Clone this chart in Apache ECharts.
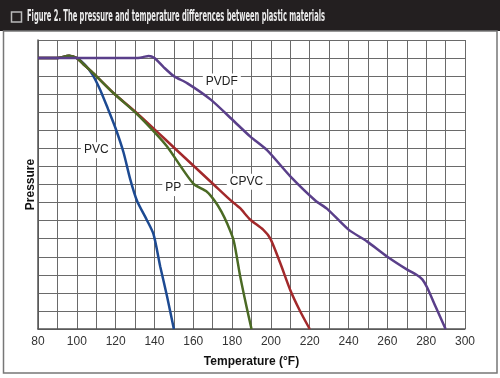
<!DOCTYPE html>
<html>
<head>
<meta charset="utf-8">
<script src="https://cdn.jsdelivr.net/npm/echarts@6/dist/echarts.min.js"></script>
<style>
html,body{margin:0;padding:0;background:#fff;}
#c{width:500px;height:378px;}
</style>
</head>
<body>
<div id="c"></div>
<script>
// ---- data ----
var titleText = 'Figure 2. The pressure and temperature differences between plastic materials';
var xName = 'Temperature (°F)';
var yName = 'Pressure';
var xTicks = [80, 100, 120, 140, 160, 180, 200, 220, 240, 260, 280, 300];

var pvc = [[80,15],[90,15],[96,15.13],[100,15],[104,14.65],[108,14.1],[112,13.25],[116,12.2],[120,11.1],[124,9.8],[127.5,8.3],[131,7.1],[136,6.05],[139.5,5.25],[143,3.45],[146.5,1.8],[150,0]];
var pp = [[80,15],[90,15],[96,15.13],[100,15],[104,14.6],[108.6,14.15],[119,13.05],[131,11.9],[140,10.9],[146.5,10.1],[160,8.05],[167,7.6],[171,7.1],[174.5,6.5],[177.4,5.85],[180.8,4.9],[184.2,2.9],[187.5,1.2],[190,0]];
var cpvc = [[80,15],[90,15],[96,15.13],[100,15],[104,14.6],[108.6,14.15],[119,13.05],[131,11.95],[150,10.05],[170.5,8.0],[179,7.15],[184,6.7],[189.4,6.05],[196,5.5],[199.7,5.0],[204.8,3.65],[210,2.15],[215,1.0],[220,0]];
var pvdf = [[80,15],[130,15],[134,15.05],[137,15.12],[140,15.0],[144.7,14.5],[150,14.0],[157,13.6],[169,12.7],[181,11.5],[189.4,10.65],[198,9.9],[210,8.45],[223,7.1],[229,6.65],[240,5.5],[249.5,4.85],[260,4.0],[270,3.3],[275,3.0],[278,2.75],[280.5,2.3],[285,1.2],[290,0]];

var seriesNames = ['PVC', 'CPVC', 'PP', 'PVDF'];
var labelPos = { PVC: [110, 9.9], CPVC: [187.4, 8.15], PP: [149.7, 7.8], PVDF: [174.7, 13.7] };

// ---- chart ----
var colors = { PVC: '#1d4a92', CPVC: '#a2292b', PP: '#4b6a24', PVDF: '#5a3f8a' };
var dataMap = { PVC: pvc, CPVC: cpvc, PP: pp, PVDF: pvdf };

var titleFont = 'bold 16px "DejaVu Sans Condensed", "DejaVu Sans", sans-serif';
var cv = document.createElement('canvas').getContext('2d');
cv.font = titleFont;
var tw = cv.measureText(titleText).width || 600;
var titleScale = 298 / tw;

var chart = echarts.init(document.getElementById('c'), null, { renderer: 'canvas' });

var series = seriesNames.map(function (n) {
  return {
    name: n,
    type: 'line',
    data: dataMap[n],
    smooth: 0.25,
    showSymbol: false,
    symbol: 'none',
    lineStyle: { color: colors[n], width: 2.5 },
    z: n === 'PVDF' ? 5 : 3,
    markPoint: {
      symbol: 'rect',
      symbolSize: 0,
      data: [{ coord: labelPos[n] }],
      label: {
        show: true,
        position: 'inside',
        formatter: n,
        color: '#222',
        fontFamily: 'Liberation Sans, Arial, sans-serif',
        fontSize: 12,
        backgroundColor: '#fff',
        padding: [2, 3]
      },
      z: 10
    }
  };
});

chart.setOption({
  animation: false,
  backgroundColor: '#fff',
  grid: { left: 38, right: 35, top: 40, bottom: 49 },
  xAxis: {
    type: 'value',
    min: 80, max: 300, interval: 10,
    name: xName,
    nameLocation: 'middle',
    nameGap: 27,
    nameTextStyle: { fontFamily: 'Liberation Sans, Arial, sans-serif', fontSize: 12, fontWeight: 'bold', color: '#111' },
    axisLine: { lineStyle: { color: '#555', width: 1.5 } },
    axisTick: { show: false },
    axisLabel: {
      margin: 7,
      fontFamily: 'Liberation Sans, Arial, sans-serif',
      fontSize: 12, color: '#333',
      formatter: function (v) { return xTicks.indexOf(v) >= 0 ? String(v) : ''; }
    },
    splitLine: { show: true, lineStyle: { color: '#6a6a6a', width: 1 } }
  },
  yAxis: {
    type: 'value',
    min: 0, max: 16, interval: 1,
    name: yName,
    nameLocation: 'middle',
    nameGap: 1,
    nameTextStyle: { fontFamily: 'Liberation Sans, Arial, sans-serif', fontSize: 12, fontWeight: 'bold', color: '#111' },
    axisLine: { show: true, lineStyle: { color: '#555', width: 1.5 } },
    axisTick: { show: false },
    axisLabel: { show: false },
    splitLine: { show: true, lineStyle: { color: '#6a6a6a', width: 1 } }
  },
  graphic: [
    { type: 'rect', shape: { x: 0, y: 0, width: 500, height: 31 }, style: { fill: '#231f20' }, z: 100 },
    { type: 'rect', shape: { x: 11.5, y: 12, width: 10, height: 10 }, style: { fill: 'none', stroke: '#b9b9b9', lineWidth: 1.5 }, z: 101 },
    { type: 'text', x: 27, y: 17, scaleX: titleScale, style: { text: titleText, font: titleFont, fill: '#ececec', textVerticalAlign: 'middle', textAlign: 'left' }, z: 101 },
    { type: 'rect', shape: { x: 3.5, y: 31, width: 493.5, height: 342 }, style: { fill: 'none', stroke: '#777', lineWidth: 1.5 }, z: 100 }
  ],
  series: series
});
</script>
</body>
</html>
